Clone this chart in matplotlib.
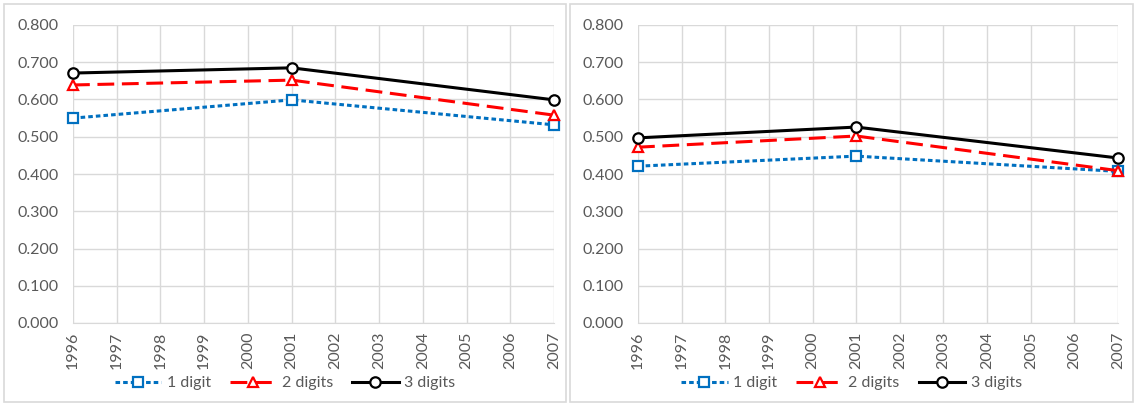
import numpy as np
import matplotlib.pyplot as plt
from matplotlib.patches import Rectangle

plt.rcParams['font.family'] = ['Lato', 'DejaVu Sans']

# data
years = [1996, 2001, 2007]
tick_years = list(range(1996, 2008))
series_names = ['1 digit', '2 digits', '3 digits']
left_vals = {
    '1 digit': [0.550, 0.599, 0.532],
    '2 digits': [0.639, 0.652, 0.558],
    '3 digits': [0.671, 0.685, 0.599],
}
right_vals = {
    '1 digit': [0.421, 0.448, 0.407],
    '2 digits': [0.472, 0.502, 0.409],
    '3 digits': [0.497, 0.526, 0.443],
}
yticks = np.arange(0, 0.81, 0.1)

styles = {
    '1 digit': dict(color='#0070C0', linestyle=(0, (1.5, 1)), marker='s'),
    '2 digits': dict(color='#FF0000', linestyle=(0, (5.5, 2.5)), marker='^'),
    '3 digits': dict(color='black', linestyle='-', marker='o'),
}

fig = plt.figure(figsize=(11.36, 4.05), dpi=100)
W, H = 1136, 405

panels = [((4, 566), (73, 554), left_vals), ((570, 1133), (638, 1118), right_vals)]

gray = '#595959'
for (x0, x1), (pl, pr), vals in panels:
    # chart border
    fig.patches.append(Rectangle((x0 / W, 3 / H), (x1 - x0) / W, (H - 7) / H,
                                 transform=fig.transFigure, fill=False,
                                 edgecolor='#D9D9D9', linewidth=1.2))
    ax = fig.add_axes([pl / W, 82 / H, (pr - pl) / W, 298 / H])
    for name in series_names:
        st = styles[name]
        ax.plot(years, vals[name], color=st['color'], linestyle=st['linestyle'],
                linewidth=2.2, marker=st['marker'], markersize=7.5,
                markerfacecolor='white', markeredgecolor=st['color'],
                markeredgewidth=1.6, label=name, clip_on=False, zorder=3)
    ax.set_xlim(1996, 2007)
    ax.set_ylim(0, 0.8)
    ax.set_xticks(tick_years)
    ax.set_xticklabels([str(y) for y in tick_years], rotation=90)
    ax.set_yticks(yticks)
    ax.set_yticklabels([f'{v:.3f}' for v in yticks])
    ax.grid(True, color='#D9D9D9', linewidth=1)
    ax.set_axisbelow(True)
    for s in ['top', 'right', 'left']:
        ax.spines[s].set_visible(False)
    ax.spines['bottom'].set_color('#D9D9D9')
    ax.tick_params(length=0, colors=gray, labelsize=11.5)
    ax.tick_params(axis='y', pad=10)
    ax.tick_params(axis='x', pad=6)
    # legend centred on the chart area, not the plot area
    cx = ((x0 + x1) / 2 - pl) / (pr - pl)
    ax.legend(loc='upper center', bbox_to_anchor=(cx, -0.13), ncol=3,
              frameon=False, fontsize=11.5, labelcolor=gray, handlelength=2.9,
              columnspacing=1.2, handletextpad=0.35)

fig.savefig('out.png', dpi=100)
